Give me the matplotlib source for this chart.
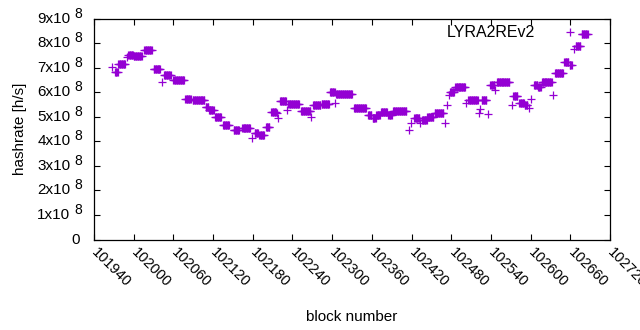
import numpy as np
import matplotlib
matplotlib.use('Agg')
import matplotlib.pyplot as plt
import matplotlib.transforms as mtransforms
from matplotlib.ticker import MultipleLocator, NullFormatter

plt.rcParams['font.family'] = ['Liberation Sans', 'DejaVu Sans']

# runs of constant hashrate: first block, last block, value (x1e8 h/s)
run_start = [101967, 101972, 101977, 101990, 101992, 102000, 102016, 102030, 102043, 102046,
             102060, 102078, 102089, 102109, 102114, 102123, 102135, 102151, 102164, 102179,
             102183, 102190, 102200, 102208, 102216, 102218, 102221, 102231, 102234, 102253,
             102268, 102271, 102284, 102297, 102305, 102306, 102333, 102354, 102361, 102367,
             102374, 102385, 102392, 102416, 102419, 102424, 102433, 102436, 102444, 102455,
             102470, 102473, 102477, 102478, 102486, 102503, 102506, 102522, 102523, 102526,
             102536, 102539, 102546, 102549, 102572, 102574, 102583, 102591, 102598, 102600,
             102605, 102611, 102617, 102634, 102637, 102651, 102659, 102663, 102666, 102668,
             102677]
run_end = [101967, 101976, 101987, 101990, 101999, 102012, 102027, 102040, 102043, 102056,
           102076, 102086, 102107, 102113, 102121, 102132, 102144, 102159, 102176, 102179,
           102188, 102197, 102205, 102215, 102216, 102218, 102230, 102231, 102250, 102267,
           102268, 102282, 102295, 102304, 102305, 102330, 102351, 102359, 102366, 102372,
           102383, 102390, 102412, 102416, 102419, 102432, 102433, 102443, 102453, 102468,
           102470, 102473, 102477, 102484, 102501, 102503, 102520, 102522, 102523, 102533,
           102536, 102545, 102546, 102568, 102572, 102580, 102590, 102595, 102598, 102600,
           102610, 102615, 102632, 102634, 102649, 102657, 102661, 102663, 102666, 102675,
           102686]
run_value = [7.05, 6.82, 7.15, 7.43, 7.54, 7.47, 7.72, 6.95, 6.44, 6.70,
             6.49, 5.73, 5.68, 5.40, 5.29, 5.00, 4.67, 4.47, 4.53, 4.13,
             4.36, 4.25, 4.58, 5.19, 5.15, 4.97, 5.64, 5.28, 5.51, 5.23,
             4.98, 5.47, 5.53, 6.00, 5.55, 5.92, 5.35, 5.08, 4.96, 5.07,
             5.20, 5.06, 5.26, 4.47, 4.74, 4.94, 4.74, 4.89, 5.01, 5.15,
             4.74, 5.49, 5.89, 6.03, 6.22, 5.55, 5.68, 5.17, 5.31, 5.68,
             5.10, 6.30, 6.10, 6.42, 5.49, 5.87, 5.57, 5.50, 5.38, 5.72,
             6.30, 6.22, 6.41, 5.89, 6.79, 7.23, 7.12, 7.12, 7.76, 7.88,
             8.36]

y_ticks = [0, 1, 2, 3, 4, 5, 6, 7, 8, 9]  # x10^8

blocks = []
hashrate = []
for s, e, v in zip(run_start, run_end, run_value):
    for b in range(s, e + 1):
        blocks.append(b)
        hashrate.append(v * 1e8)
blocks = np.array(blocks)
hashrate = np.array(hashrate)

fig = plt.figure(figsize=(6.4, 3.3), dpi=100)
ax = fig.add_axes([94 / 640, 1 - 239.5 / 330, 516 / 640, 220.7 / 330])

ax.plot(blocks, hashrate, linestyle='none', marker='+', color='#9400d3',
        markersize=5.8, markeredgewidth=0.9, label='LYRA2REv2')

ax.set_xlim(101940, 102720)
ax.set_ylim(0, 9e8)
ax.xaxis.set_major_locator(MultipleLocator(60))
ax.set_yticks([t * 1e8 for t in y_ticks])
ax.yaxis.set_major_formatter(NullFormatter())
ax.tick_params(direction='in', top=True, right=True, length=4, width=0.8,
               labelsize=10.5, colors='black')
ax.tick_params(axis='x', pad=8)
for lbl in ax.get_xticklabels():
    lbl.set_rotation(-45)
    lbl.set_ha('left')
    lbl.set_va('center')
    lbl.set_rotation_mode('anchor')
for sp in ax.spines.values():
    sp.set_linewidth(0.9)

# y tick labels in gnuplot style: "9x10" with a raised "8"
ytrans = mtransforms.blended_transform_factory(ax.transAxes, ax.transData)
for t in y_ticks:
    if t == 0:
        ax.text(-0.027, 0, '0', transform=ytrans, ha='right', va='center', fontsize=11)
        continue
    ax.text(-0.046, t * 1e8, '%dx10' % t, transform=ytrans, ha='right', va='center', fontsize=11)
    sup = mtransforms.offset_copy(ytrans, fig=fig, x=0, y=5, units='dots')
    ax.text(-0.023, t * 1e8, '8', transform=sup, ha='right', va='center', fontsize=10)

ax.set_xlabel('block number', fontsize=11, labelpad=14)
ax.set_ylabel('hashrate [h/s]', fontsize=11, labelpad=45)

ax.legend(loc='upper right', markerfirst=False, frameon=False, fontsize=11.5,
          handlelength=1.2, handletextpad=1.6, borderaxespad=0.2,
          bbox_to_anchor=(0.959, 1.014))

fig.savefig('out.png', dpi=100)
